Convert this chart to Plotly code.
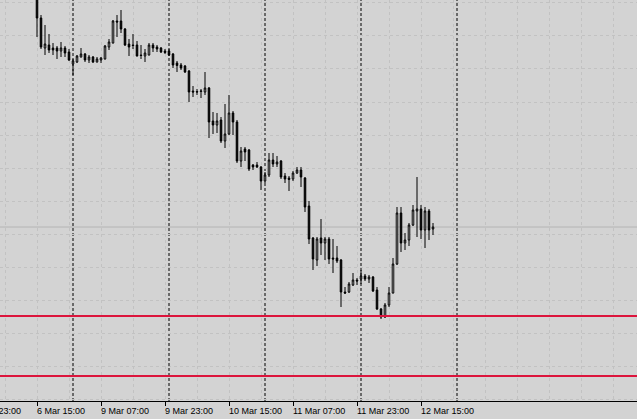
import plotly.graph_objects as go

# ---- data (H1 bars, index 0 = 6 Mar 15:00) ----
bar_index = list(range(100))
opens = [112.15, 111.82, 111.52, 111.55, 111.52, 111.52, 111.49, 111.52, 111.48, 111.36,
         111.38, 111.43, 111.46, 111.40, 111.43, 111.38, 111.40, 111.41, 111.53, 111.57,
         111.79, 111.79, 111.71, 111.56, 111.55, 111.55, 111.45, 111.44, 111.45, 111.55,
         111.53, 111.52, 111.49, 111.49, 111.46, 111.37, 111.35, 111.34, 111.29, 111.09,
         111.085, 111.085, 111.08, 111.12, 110.79, 110.75, 110.80, 110.59, 110.66, 110.87,
         110.78, 110.39, 110.51, 110.50, 110.35, 110.35, 110.33, 110.19, 110.25, 110.40,
         110.36, 110.39, 110.24, 110.22, 110.21, 110.27, 110.30, 110.22, 109.94, 109.62,
         109.40, 109.62, 109.57, 109.61, 109.42, 109.42, 109.40, 109.08, 109.08, 109.15,
         109.20, 109.21, 109.24, 109.21, 109.23, 109.10, 108.91, 108.83, 108.95, 109.07,
         109.36, 109.87, 109.57, 109.60, 109.75, 109.89, 109.91, 109.70, 109.89, 109.71]
highs = [112.20, 111.85, 111.75, 111.66, 111.57, 111.54, 111.58, 111.54, 111.51, 111.41,
         111.45, 111.52, 111.47, 111.45, 111.44, 111.43, 111.43, 111.55, 111.61, 111.80,
         111.85, 111.90, 111.72, 111.61, 111.66, 111.59, 111.55, 111.51, 111.57, 111.57,
         111.55, 111.53, 111.51, 111.51, 111.47, 111.39, 111.37, 111.35, 111.30, 111.14,
         111.11, 111.11, 111.28, 111.13, 110.88, 110.87, 110.83, 110.96, 111.05, 110.89,
         110.80, 110.53, 110.53, 110.51, 110.36, 110.38, 110.34, 110.28, 110.47, 110.47,
         110.44, 110.40, 110.27, 110.24, 110.29, 110.33, 110.33, 110.23, 109.99, 109.63,
         109.63, 109.81, 109.63, 109.63, 109.61, 109.54, 109.41, 109.13, 109.18, 109.27,
         109.22, 109.30, 109.26, 109.25, 109.24, 109.13, 108.92, 108.97, 109.13, 109.42,
         109.93, 109.93, 109.67, 109.77, 109.95, 110.23, 109.95, 109.93, 109.91, 109.77]
lows = [111.63, 111.51, 111.45, 111.47, 111.45, 111.41, 111.43, 111.43, 111.39, 111.25,
        111.37, 111.425, 111.38, 111.37, 111.37, 111.375, 111.37, 111.405, 111.50, 111.565,
        111.63, 111.67, 111.54, 111.44, 111.51, 111.435, 111.41, 111.38, 111.445, 111.48,
        111.48, 111.47, 111.46, 111.44, 111.32, 111.28, 111.30, 111.27, 110.98, 111.03,
        111.05, 111.02, 111.05, 110.62, 110.66, 110.67, 110.57, 110.52, 110.65, 110.65,
        110.37, 110.33, 110.39, 110.29, 110.30, 110.32, 110.10, 110.17, 110.23, 110.33,
        110.33, 110.21, 110.17, 110.09, 110.19, 110.26, 110.13, 109.88, 109.56, 109.30,
        109.34, 109.45, 109.40, 109.36, 109.27, 109.37, 108.93, 109.06, 109.07, 109.14,
        109.15, 109.16, 109.19, 109.17, 109.08, 108.90, 108.81, 108.82, 108.93, 109.065,
        109.35, 109.48, 109.50, 109.54, 109.74, 109.63, 109.61, 109.52, 109.60, 109.65]
closes = [111.82, 111.53, 111.56, 111.50, 111.50, 111.49, 111.52, 111.47, 111.40, 111.39,
          111.44, 111.46, 111.40, 111.43, 111.38, 111.41, 111.42, 111.54, 111.58, 111.79,
          111.78, 111.71, 111.55, 111.53, 111.545, 111.44, 111.445, 111.47, 111.55, 111.52,
          111.51, 111.48, 111.475, 111.45, 111.35, 111.345, 111.32, 111.28, 111.08, 111.08,
          111.08, 111.09, 111.12, 110.78, 110.75, 110.79, 110.59, 110.66, 110.87, 110.78,
          110.39, 110.49, 110.48, 110.31, 110.33, 110.33, 110.19, 110.25, 110.40, 110.36,
          110.38, 110.23, 110.21, 110.205, 110.27, 110.30, 110.23, 109.93, 109.61, 109.41,
          109.61, 109.57, 109.61, 109.41, 109.41, 109.39, 109.08, 109.07, 109.16, 109.20,
          109.19, 109.24, 109.21, 109.23, 109.09, 108.91, 108.83, 108.95, 109.07, 109.36,
          109.87, 109.57, 109.60, 109.75, 109.90, 109.91, 109.70, 109.89, 109.70, 109.73]

tick_index = [-16, 0, 16, 32, 48, 64, 80, 96]
tick_labels = ["5 Mar 23:00", "6 Mar 15:00", "9 Mar 07:00", "9 Mar 23:00",
               "10 Mar 15:00", "11 Mar 07:00", "11 Mar 23:00", "12 Mar 15:00"]
day_separators = [9, 33, 57, 81, 105]
level_lines = [108.84, 108.24]

X_MIN, X_MAX = -9.25, 150.0
Y_MIN, Y_MAX = 107.99, 112.00

BG = "#d3d3d3"
GRID = "#c2c2c2"

fig = go.Figure()
fig.add_trace(go.Candlestick(
    x=bar_index, open=opens, high=highs, low=lows, close=closes,
    increasing=dict(line=dict(color="black", width=1), fillcolor="white"),
    decreasing=dict(line=dict(color="black", width=1), fillcolor="black"),
    whiskerwidth=0, hoverinfo="skip", showlegend=False,
))

shapes = []
for s in day_separators:
    shapes.append(dict(type="line", xref="x", yref="paper", x0=s, x1=s, y0=0, y1=1,
                       line=dict(color="black", width=1, dash="3px,2px"), layer="below"))
shapes.append(dict(type="line", xref="paper", yref="y", x0=0, x1=1, y0=closes[-1], y1=closes[-1],
                   line=dict(color="#b4b4b4", width=1), layer="below"))
for lv in level_lines:
    shapes.append(dict(type="line", xref="paper", yref="y", x0=0, x1=1, y0=lv, y1=lv,
                       line=dict(color="#dc143c", width=2), layer="above"))

annotations = []
for v, t in zip(tick_index, tick_labels):
    frac = (v - X_MIN) / (X_MAX - X_MIN)
    annotations.append(dict(x=frac, xref="paper", y=0, yref="paper", text=t,
                            showarrow=False, xanchor="left", yanchor="middle",
                            xshift=-2, yshift=-10,
                            font=dict(family="Liberation Sans, Arial, sans-serif", size=9, color="black")))

fig.update_layout(
    width=637, height=419,
    margin=dict(l=0, r=0, t=0, b=18, pad=0),
    paper_bgcolor=BG, plot_bgcolor=BG,
    showlegend=False,
    boxgap=0.45,
    shapes=shapes,
    annotations=annotations,
    xaxis=dict(
        range=[X_MIN, X_MAX], rangeslider=dict(visible=False),
        tickmode="array", tickvals=tick_index, ticktext=[""] * len(tick_index),
        showticklabels=False, ticks="outside", ticklen=4, tickcolor="black", tickwidth=1,
        showgrid=False, zeroline=False,
        showline=True, linecolor="black", linewidth=1,
        minor=dict(tickmode="linear", tick0=0, dtick=8, showgrid=True,
                   gridcolor=GRID, gridwidth=1, griddash="3px,3px", ticks=""),
    ),
    yaxis=dict(
        range=[Y_MIN, Y_MAX], showticklabels=False, ticks="",
        tickmode="linear", tick0=111.973, dtick=0.331,
        showgrid=True, gridcolor=GRID, gridwidth=1, griddash="3px,3px",
        zeroline=False, showline=False,
    ),
)

fig.write_html("out.html")
